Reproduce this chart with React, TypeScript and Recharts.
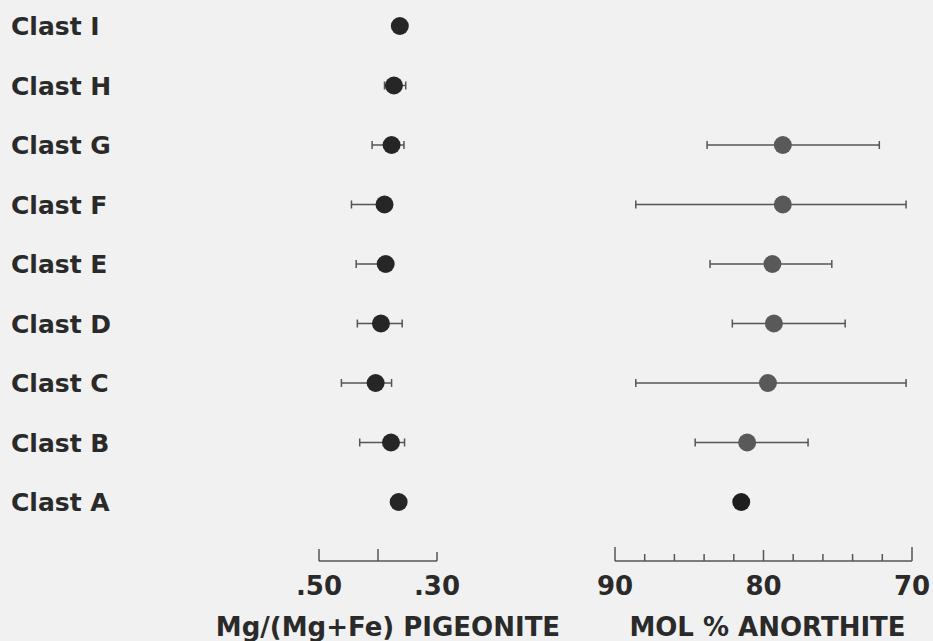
import { ScatterChart, Scatter, XAxis, YAxis, ErrorBar, Cell } from 'recharts';

// rows from bottom (A) to top (I)
const clasts = ['Clast A', 'Clast B', 'Clast C', 'Clast D', 'Clast E', 'Clast F', 'Clast G', 'Clast H', 'Clast I'];
const rows = [0, 1, 2, 3, 4, 5, 6, 7, 8];

// Mg/(Mg+Fe) of pigeonite: mean and observed range, A..I
const mgMean = [0.365, 0.378, 0.404, 0.395, 0.387, 0.389, 0.377, 0.373, 0.363];
const mgLow = [0.365, 0.355, 0.377, 0.359, 0.387, 0.389, 0.356, 0.353, 0.363];
const mgHigh = [0.365, 0.431, 0.462, 0.435, 0.437, 0.445, 0.41, 0.389, 0.363];

// mol % anorthite: mean and range, A..G (no data for H and I)
const anMean = [81.5, 81.1, 79.7, 79.3, 79.4, 78.7, 78.7];
const anLow = [81.5, 77.0, 70.4, 74.5, 75.4, 70.4, 72.2];
const anHigh = [81.5, 84.6, 88.6, 82.1, 83.6, 88.6, 83.8];

const mgTicks = [0.5, 0.4, 0.3];
const mgTickLabels = ['.50', '', '.30'];
const anTicks = [90, 88, 86, 84, 82, 80, 78, 76, 74, 72, 70];
const anTickLabels = ['90', '', '', '', '', '80', '', '', '', '', '70'];

const FONT = '"DejaVu Sans", sans-serif';
const INK = '#2a2a2a';
const LINE = '#555';
const BG = '#f1f1f1';
const W = 933;
const H = 641;

const mgData = rows.map((r) => ({
  clast: clasts[r],
  row: r,
  value: mgMean[r],
  err: [mgMean[r] - mgLow[r], mgHigh[r] - mgMean[r]],
}));

const anData = anMean.map((v, r) => ({
  clast: clasts[r],
  row: r,
  value: v,
  err: [v - anLow[r], anHigh[r] - v],
}));

function axisTick(ticks: number[], labels: string[], lenOf: (v: number) => number) {
  return (props: any) => {
    const { x, y, payload } = props;
    const i = ticks.indexOf(payload.value);
    return (
      <g>
        <line x1={x} x2={x} y1={y} y2={y - lenOf(payload.value)} stroke={LINE} strokeWidth={1.5} />
        {labels[i] ? (
          <text x={x} y={y + 34} textAnchor="middle" fontFamily={FONT} fontWeight="bold" fontSize={26} fill={INK}>
            {labels[i]}
          </text>
        ) : null}
      </g>
    );
  };
}

const ClastTick = (props: any) => {
  const { y, payload } = props;
  return (
    <text x={11} y={y} dy={9} fontFamily={FONT} fontWeight="bold" fontSize={25} fill={INK}>
      {clasts[payload.value]}
    </text>
  );
};

const Dot = (props: any) => <circle cx={props.cx} cy={props.cy} r={9} fill={props.fill} />;

const titleStyle = { fontFamily: FONT, fontWeight: 'bold', fontSize: 26, fill: INK };

export default function App() {
  return (
    <div style={{ position: 'absolute', left: 0, top: 0, width: W, height: H, background: BG }}>
      {/* left panel: pigeonite */}
      <div style={{ position: 'absolute', left: 0, top: 0 }}>
        <ScatterChart width={W} height={H} margin={{ top: 26, right: 496, bottom: 0, left: 10 }}>
          <XAxis
            type="number"
            dataKey="value"
            domain={[0.3, 0.5]}
            reversed
            ticks={mgTicks}
            interval={0}
            height={80}
            tickSize={0}
            tickMargin={0}
            tickLine={false}
            axisLine={{ stroke: LINE, strokeWidth: 1.5 }}
            tick={axisTick(mgTicks, mgTickLabels, (v) => (v === 0.3 ? 9 : 12))}
            label={{ value: 'Mg/(Mg+Fe) PIGEONITE', position: 'insideBottom', offset: 5, dx: 10, ...titleStyle }}
          />
          <YAxis
            type="number"
            dataKey="row"
            domain={[0, 8]}
            padding={{ top: 0, bottom: 59 }}
            ticks={rows}
            interval={0}
            width={309}
            axisLine={false}
            tickLine={false}
            tick={<ClastTick />}
          />
          <Scatter data={mgData} shape={<Dot />} fill="#262626" isAnimationActive={false}>
            <ErrorBar dataKey="err" direction="x" width={4} stroke={LINE} strokeWidth={1.5} isAnimationActive={false} />
          </Scatter>
        </ScatterChart>
      </div>
      {/* right panel: anorthite */}
      <div style={{ position: 'absolute', left: 0, top: 0 }}>
        <ScatterChart width={W} height={H} margin={{ top: 26, right: 21, bottom: 0, left: 615 }}>
          <XAxis
            type="number"
            dataKey="value"
            domain={[70, 90]}
            reversed
            ticks={anTicks}
            interval={0}
            height={80}
            tickSize={0}
            tickMargin={0}
            tickLine={false}
            axisLine={{ stroke: LINE, strokeWidth: 1.5 }}
            tick={axisTick(anTicks, anTickLabels, (v) => (v === 90 || v === 70 ? 14 : v === 80 ? 11 : 7))}
            label={{ value: 'MOL % ANORTHITE', position: 'insideBottom', offset: 5, dx: 4, ...titleStyle }}
          />
          <YAxis type="number" dataKey="row" domain={[0, 8]} padding={{ top: 0, bottom: 59 }} hide width={0} />
          <Scatter data={anData} shape={<Dot />} isAnimationActive={false}>
            {anData.map((d, i) => (
              <Cell key={d.clast} fill={i === 0 ? '#1e1e1e' : '#595959'} />
            ))}
            <ErrorBar dataKey="err" direction="x" width={4} stroke={LINE} strokeWidth={1.5} isAnimationActive={false} />
          </Scatter>
        </ScatterChart>
      </div>
    </div>
  );
}
